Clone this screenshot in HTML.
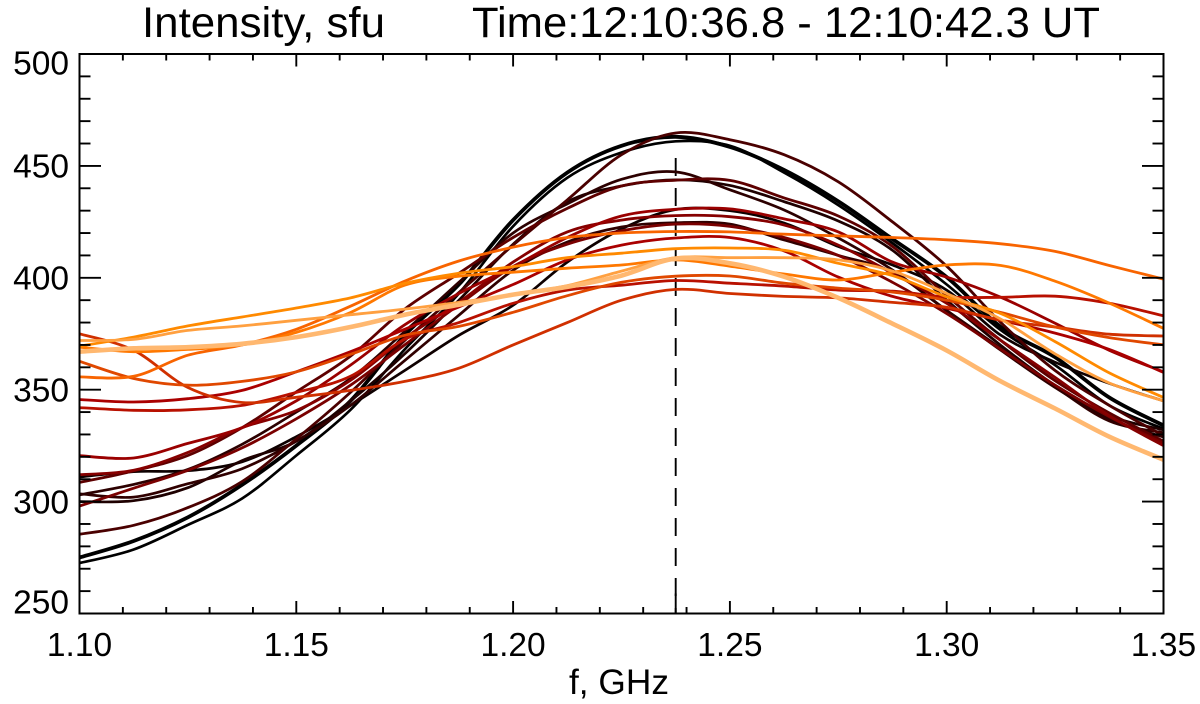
<!DOCTYPE html>
<html lang="en">
<head>
<meta charset="utf-8">
<title>Intensity spectrum chart</title>
<style>
html,body{margin:0;padding:0;background:#fff;width:1200px;height:704px;overflow:hidden}
svg{display:block}
text{font-family:"Liberation Sans",Arial,sans-serif;fill:#000}
</style>
</head>
<body>
<svg id="chart" width="1200" height="704" viewBox="0 0 1200 704" xmlns="http://www.w3.org/2000/svg">
  <text x="142" y="37" font-size="43" textLength="243" lengthAdjust="spacingAndGlyphs">Intensity, sfu</text>
  <text x="472" y="37" font-size="43" textLength="628" lengthAdjust="spacingAndGlyphs">Time:12:10:36.8 - 12:10:42.3 UT</text>
  <text x="569" y="694" font-size="35" textLength="100" lengthAdjust="spacingAndGlyphs">f, GHz</text>
  <g id="marks"></g>
  <g id="axes"></g>
</svg>
<script>
var frequencies = [1.10,1.1125,1.125,1.1375,1.15,1.1625,1.175,1.1875,1.20,1.2125,1.225,1.2375,1.25,1.2625,1.275,1.2875,1.30,1.3125,1.325,1.3375,1.35];
var xTickLabels = ["1.10","1.15","1.20","1.25","1.30","1.35"];
var yTickLabels = ["250","300","350","400","450","500"];
var peakFrequency = 1.2375;
var seriesNames = ["k1","k2","g2","m3","g4a","m2","m1","m4","g4b","g3","g1","r2","r1","d","e","a","b","o1","o4","l"];
var seriesColors = ["#000000","#000000","#0e0000","#1e0000","#300000","#2c0000","#4a0000","#5e0000","#7a0000","#860000","#9a0000","#aa0000","#b81000","#d03000","#e04800","#f86400","#ff7800","#ff8a00","#ffa040","#ffb870"];
var seriesWidths = [3.8,2.7,2.7,2.7,2.7,2.7,2.8,2.8,2.8,2.8,2.8,2.8,2.8,2.8,2.8,2.8,2.8,2.8,2.8,4.6];
var k1 = [275,282.4,293,307.5,325,345,374.3,397,425.8,447,459,463,458.5,448.2,434.2,417.3,400.3,378,364.5,346.5,334];
var k2 = [272.5,278.6,289.6,301.4,320.6,341,368,393,423,444.7,456,461,459,447,432.5,415.5,397,376.6,361,343,332.5];
var g2 = [311,313.4,313.8,317.8,329,343,358.6,374.3,387.7,407,421.8,430.5,430,424.5,414,405.7,394.5,374.3,362.3,352.8,345];
var m3 = [300,300.4,306.2,318.3,327,345,366,390,415,433.9,441,443.8,441.3,434,425.4,412.3,390,369.8,351.9,338.4,332];
var g4a = [303.5,302,308,314.7,327,343,363,383.3,403.4,416,422.7,424.6,424,416.9,410,402.5,385.4,368.5,351.3,336,330.8];
var m2 = [303,307.7,314.4,325.6,340,355,376,398,420,433,444,447.3,439.3,430.3,417.8,403.5,385.4,367.6,351,337,328.8];
var m1 = [285.4,289.4,297.3,309,328,348.8,372,393.4,414.6,434.8,455,464.7,461.7,455,442.9,425,405.2,380,358.6,343,329.4];
var m4 = [308.6,313.7,320.6,333,349,365,386,402,418,431,441,443.6,443.5,435.7,427.6,414,392,372,354,339.6,327];
var g4b = [298,306,314,324,337,352,370,388,405,415,421,424,423,418,410,398,384,368,352,338,326];
var g3 = [312,314,322,333,340.7,354.2,373,389,407,420.5,425.8,427.8,427.3,423.6,414.6,402,388.6,372,355.5,338.4,325];
var g1 = [320.5,319.5,326,333,345,361,379,393,405,418,427.6,430.6,430.8,426.3,420.5,407,400.3,391.3,379.7,367.6,358];
var r2 = [345.6,344.5,346,349.7,358,367,377,387,397,408,414.6,417.8,418,412,400.3,391.7,386.4,381,375.3,368,357.7];
var r1 = [342,340.8,341,343,348.8,356,372.5,380,388.6,394.5,396.7,398.8,397.6,396.3,394.5,394,391.4,391.3,391.8,388.6,383];
var d = [375,367.6,351,344.3,346.6,349.7,353.7,359.6,370,380,390,394.8,393,391.7,391,389,386.8,381,378,374.8,374];
var e = [362.7,355,352,353.7,358,365.8,374.3,378.3,384.6,392,398,400.7,400.8,397.6,395.4,393.6,390,384.5,378,373.3,370];
var a = [355.7,356,365.4,370,377,387.3,398.5,407.5,413.7,418,420,420.7,420.5,419.5,418.7,418,417,415.2,411.8,405.5,399.4];
var b = [369,367,368,370,375.6,384.5,396.7,400.7,402.5,404.3,405.7,408,405.2,401.7,399,402.5,405.7,405.5,398.5,388.7,377.4];
var o1 = [369.5,373.5,378.5,382.5,386.5,391,397.5,402,405,409,411,413,413.3,412.3,406.5,401,391.5,384,371.5,357.5,346.5];
var o4 = [372,372.5,376.5,378.5,381,383.5,386,389,392.5,396.5,403,409,409,409,408,403,393,381.5,366,353,345];
var l = [367,368.5,369,370.5,373.5,378,383.5,388,392.5,396,401,408.6,406.5,400.5,391,379.5,367.5,353.7,341.6,329,318.7];
var seriesValues = [k1,k2,g2,m3,g4a,m2,m1,m4,g4b,g3,g1,r2,r1,d,e,a,b,o1,o4,l];

var NS = "http://www.w3.org/2000/svg";
var LEFT = 79.5, RIGHT = 1163.5, TOP = 54, BOTTOM = 613.5;
var F0 = 1.10, F1 = 1.35, V0 = 250, V1 = 500;
function xScale(f){ return LEFT + (f - F0) / (F1 - F0) * (RIGHT - LEFT); }
function yScale(v){ return BOTTOM - (v - V0) / (V1 - V0) * (BOTTOM - TOP); }
function make(tag, parent, attrs){
  var el = document.createElementNS(NS, tag);
  for (var k in attrs) el.setAttribute(k, attrs[k]);
  parent.appendChild(el);
  return el;
}
function smoothPath(vals){
  var p = vals.map(function(v, j){ return [xScale(frequencies[j]), yScale(v)]; });
  var s = "M" + p[0][0].toFixed(1) + " " + p[0][1].toFixed(1);
  for (var i = 0; i < p.length - 1; i++) {
    var a0 = p[Math.max(i-1, 0)], a1 = p[i], a2 = p[i+1], a3 = p[Math.min(i+2, p.length-1)];
    s += " C" + (a1[0] + (a2[0]-a0[0])/6).toFixed(1) + " " + (a1[1] + (a2[1]-a0[1])/6).toFixed(1) +
         " " + (a2[0] - (a3[0]-a1[0])/6).toFixed(1) + " " + (a2[1] - (a3[1]-a1[1])/6).toFixed(1) +
         " " + a2[0].toFixed(1) + " " + a2[1].toFixed(1);
  }
  return s;
}
var marks = document.getElementById("marks");
var axes = document.getElementById("axes");

var peakLine = make("line", marks, {x1:xScale(peakFrequency), x2:xScale(peakFrequency), y1:158, y2:BOTTOM, stroke:"#000", "stroke-width":1.9, "stroke-dasharray":"18 12"});



seriesValues.forEach(function(vals, i){
  var line = make("path", marks, {d:smoothPath(vals), fill:"none", stroke:seriesColors[i], "stroke-width":seriesWidths[i], "stroke-linejoin":"round"});
  
  
});

var clipWhiteL = make("rect", marks, {x:0, y:TOP, width:LEFT, height:BOTTOM-TOP, fill:"#fff"});


var clipWhiteR = make("rect", marks, {x:RIGHT, y:TOP, width:1200-RIGHT, height:BOTTOM-TOP, fill:"#fff"});



var frame = make("rect", axes, {x:LEFT, y:TOP, width:RIGHT-LEFT, height:BOTTOM-TOP, fill:"none", stroke:"#000", "stroke-width":2});



function tick(x1, y1, x2, y2, name){
  var t = make("line", axes, {x1:x1, y1:y1, x2:x2, y2:y2, stroke:"#000", "stroke-width":1.9});
  
  
}
// x-axis ticks: five intervals per labelled step
xTickLabels.forEach(function(lab, i){
  var f = parseFloat(lab);
  var px = xScale(f);
  tick(px, BOTTOM, px, BOTTOM-12.5, 'x-major-tick');
  tick(px, TOP, px, TOP+12.5, 'x-major-tick-top');
  var txt = make("text", axes, {x:px, y:656, "font-size":33.5, "text-anchor":"middle"});
  txt.textContent = lab;
  
  
  if (i < xTickLabels.length - 1) {
    var next = parseFloat(xTickLabels[i+1]);
    for (var m = 1; m < 5; m++) {
      var mx = xScale(f + (next - f) * m / 5);
      tick(mx, BOTTOM, mx, BOTTOM-6.5, 'x-minor-tick');
      tick(mx, TOP, mx, TOP+6.5, 'x-minor-tick-top');
    }
  }
});
var peakTick = xScale(peakFrequency);
tick(peakTick, BOTTOM, peakTick, BOTTOM-20, 'peak-frequency-tick');

// y-axis ticks: five intervals per labelled step
yTickLabels.forEach(function(lab, i){
  var v = parseFloat(lab);
  var py = yScale(v);
  tick(LEFT, py, LEFT+21.5, py, 'y-major-tick');
  tick(RIGHT, py, RIGHT-21.5, py, 'y-major-tick-right');
  var base = py + 11.8;
  if (i === 0) base = py;
  if (i === yTickLabels.length - 1) base = py + 20.3;
  var txt = make("text", axes, {x:69, y:base, "font-size":33.5, "text-anchor":"end"});
  txt.textContent = lab;
  
  
  if (i < yTickLabels.length - 1) {
    var next = parseFloat(yTickLabels[i+1]);
    for (var m = 1; m < 5; m++) {
      var my = yScale(v + (next - v) * m / 5);
      tick(LEFT, my, LEFT+11, my, 'y-minor-tick');
      tick(RIGHT, my, RIGHT-11, my, 'y-minor-tick-right');
    }
  }
});
</script>
</body>
</html>
